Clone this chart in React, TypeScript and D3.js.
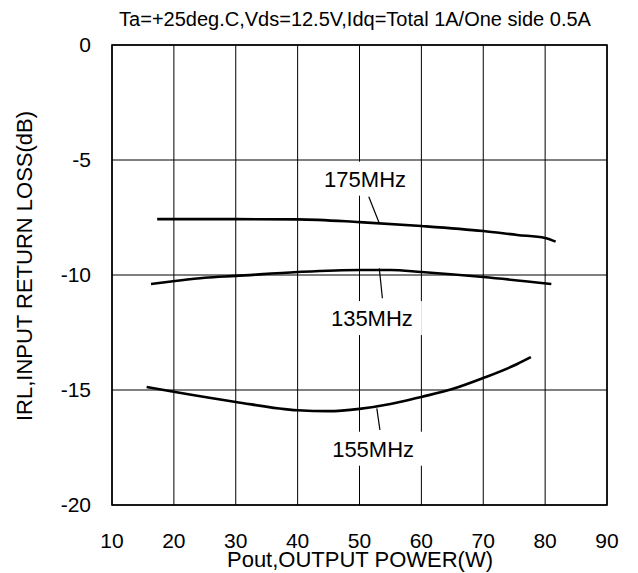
import React from "react";
import * as d3 from "d3";

const W = 638;
const H = 573;

const titleText = "Ta=+25deg.C,Vds=12.5V,Idq=Total 1A/One side 0.5A";
const xTitle = "Pout,OUTPUT POWER(W)";
const yTitle = "IRL,INPUT RETURN LOSS(dB)";

const xTicks = [10, 20, 30, 40, 50, 60, 70, 80, 90];
const yTicks = [0, -5, -10, -15, -20];

const seriesNames = ["175MHz", "135MHz", "155MHz"];

const pout175 = [17.3, 22, 30, 40, 50, 60, 70, 75.5, 80, 81.7];
const irl175 = [-7.57, -7.57, -7.57, -7.58, -7.7, -7.87, -8.09, -8.26, -8.39, -8.55];

const pout135 = [16.3, 20.2, 25, 30, 40, 50, 55, 60, 70, 81];
const irl135 = [-10.39, -10.26, -10.12, -10.04, -9.87, -9.78, -9.78, -9.87, -10.09, -10.39];

const pout155 = [15.6, 20.2, 30, 40, 45, 50, 55, 60, 65, 70, 75.5, 77.7];
const irl155 = [-14.87, -15.09, -15.52, -15.88, -15.92, -15.82, -15.61, -15.3, -14.96, -14.48, -13.87, -13.57];

const seriesX = [pout175, pout135, pout155];
const seriesY = [irl175, irl135, irl155];

// annotation anchors in data units: [textX, textBaselineY, leaderX1, leaderY1, leaderX2, leaderY2]
const labelAnchors = [
  [50.9, -6.16, 51.5, -6.6, 53.2, -7.75],
  [52.0, -12.22, 53.7, -11.01, 53.2, -9.71],
  [52.2, -17.9, 53.3, -16.74, 52.8, -15.8],
];

const FONT = "'Liberation Sans', Arial, Helvetica, sans-serif";

export default function App() {
  const left = 112, right = 607, top = 45, bottom = 505;
  const x = d3.scaleLinear().domain([10, 90]).range([left, right]);
  const y = d3.scaleLinear().domain([-20, 0]).range([bottom, top]);

  const line = d3
    .line<[number, number]>()
    .x((d) => x(d[0]))
    .y((d) => y(d[1]))
    .curve(d3.curveMonotoneX);

  return (
    <svg
      width={W}
      height={H}
      style={{ position: "absolute", left: 0, top: 0, background: "#fff" }}
      fontFamily={FONT}
    >
      <rect x={0} y={0} width={W} height={H} fill="#fff" />
      {/* grid */}
      {xTicks.map((t) => (
        <line key={"gx" + t} x1={x(t)} x2={x(t)} y1={top} y2={bottom} stroke="#000" strokeWidth={1} />
      ))}
      {yTicks.map((t) => (
        <line key={"gy" + t} x1={left} x2={right} y1={y(t)} y2={y(t)} stroke="#000" strokeWidth={1} />
      ))}
      {/* label masks */}
      {labelAnchors.map((a, i) => (
        <rect
          key={"m" + i}
          x={x(a[0]) - 50}
          y={y(a[1]) - 25}
          width={100}
          height={34}
          fill="#fff"
        />
      ))}
      <rect x={left} y={top} width={right - left} height={bottom - top} fill="none" stroke="#000" strokeWidth={1.6} />
      {/* curves */}
      {seriesX.map((xs, i) => (
        <path
          key={"s" + i}
          d={line(xs.map((v, j) => [v, seriesY[i][j]] as [number, number])) || ""}
          fill="none"
          stroke="#000"
          strokeWidth={2.6}
        />
      ))}
      {/* leaders and labels */}
      {labelAnchors.map((a, i) => (
        <g key={"l" + i}>
          <line x1={x(a[2])} y1={y(a[3])} x2={x(a[4])} y2={y(a[5])} stroke="#000" strokeWidth={1.2} />
          <text x={x(a[0])} y={y(a[1])} textAnchor="middle" fontSize={22} fill="#000">
            {seriesNames[i]}
          </text>
        </g>
      ))}
      {/* tick labels */}
      {xTicks.map((t) => (
        <text key={"tx" + t} x={x(t)} y={548} textAnchor="middle" fontSize={21} fill="#000">
          {t}
        </text>
      ))}
      {yTicks.map((t) => (
        <text key={"ty" + t} x={91} y={y(t)} dy="0.35em" textAnchor="end" fontSize={21} fill="#000">
          {t}
        </text>
      ))}
      <text x={355} y={26} textAnchor="middle" fontSize={20} fill="#000">
        {titleText}
      </text>
      <text x={360} y={567} textAnchor="middle" fontSize={22} fill="#000">
        {xTitle}
      </text>
      <text
        transform={`translate(32,266) rotate(-90)`}
        textAnchor="middle"
        fontSize={22}
        fill="#000"
      >
        {yTitle}
      </text>
    </svg>
  );
}
